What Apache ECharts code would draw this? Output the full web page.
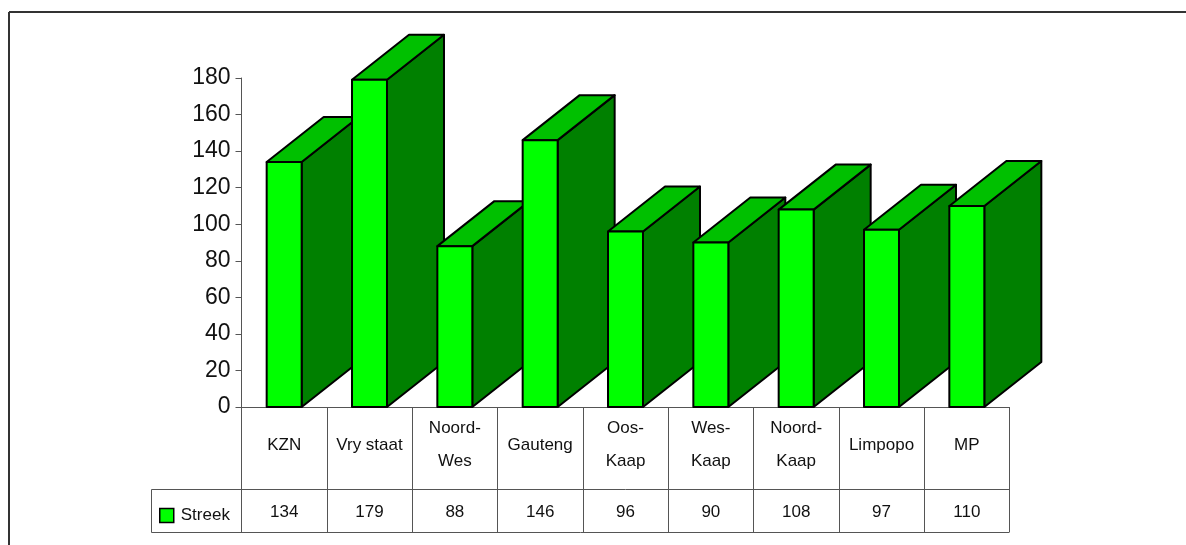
<!DOCTYPE html>
<html>
<head>
<meta charset="utf-8">
<style>
html, body { margin: 0; padding: 0; background: #fff; }
#main { width: 1186px; height: 545px; }
</style>
<script src="https://cdn.jsdelivr.net/npm/echarts@6/dist/echarts.min.js"></script>
</head>
<body>
<div id="main"></div>
<script>
var categories = ['KZN', 'Vry staat', 'Noord-\nWes', 'Gauteng', 'Oos-\nKaap', 'Wes-\nKaap', 'Noord-\nKaap', 'Limpopo', 'MP'];
var streek = [134, 179, 88, 146, 96, 90, 108, 97, 110];
var yTicks = { min: 0, max: 180, interval: 20 };

var myChart = echarts.init(document.getElementById('main'));
var lineGray = '#555555';
var depthX = 57;
var depthY = 45;

// front, side and top face of one 3d column
function renderColumn(params, api) {
    var base = api.coord([api.value(0), 0]);
    var top = api.coord([api.value(0), api.value(1)]);
    var w = api.size([1, 0])[0] * 0.41;
    var l = base[0] - w / 2;
    var r = base[0] + w / 2;
    function face(points, fill) {
        return {
            type: 'polygon',
            shape: { points: points },
            style: { fill: fill, stroke: '#000', lineWidth: 2, lineJoin: 'round' }
        };
    }
    return {
        type: 'group',
        children: [
            face([[r, base[1]], [r + depthX, base[1] - depthY], [r + depthX, top[1] - depthY], [r, top[1]]], '#008000'),
            face([[l, top[1]], [r, top[1]], [r + depthX, top[1] - depthY], [l + depthX, top[1] - depthY]], '#00c000'),
            face([[l, base[1]], [r, base[1]], [r, top[1]], [l, top[1]]], '#00ff00')
        ]
    };
}

function frameLine(x1, y1, x2, y2, color, width) {
    return {
        type: 'line',
        shape: { x1: x1, y1: y1, x2: x2, y2: y2 },
        style: { stroke: color || lineGray, lineWidth: width || 1 },
        z: 5
    };
}

var option = {
    animation: false,
    backgroundColor: '#fff',
    grid: { left: 241.5, right: 176.5, top: 78, bottom: 138, containLabel: false },
    legend: {
        data: [{ name: 'Streek', icon: 'rect' }],
        left: 159,
        top: 507,
        itemWidth: 14,
        itemHeight: 14,
        itemStyle: { color: '#00ff00', borderColor: '#000', borderWidth: 1.5 },
        textStyle: { color: '#111', fontFamily: 'Liberation Sans', fontSize: 17, padding: [0, 0, 0, 2] },
        padding: 0
    },
    xAxis: [
        {
            type: 'category',
            data: categories,
            position: 'bottom',
            axisLine: { lineStyle: { color: lineGray, width: 1 } },
            axisTick: { show: true, length: 82, lineStyle: { color: lineGray, width: 1 } },
            axisLabel: {
                interval: 0,
                margin: 38,
                color: '#111',
                fontFamily: 'Liberation Sans',
                fontSize: 17,
                lineHeight: 33,
                verticalAlign: 'middle'
            }
        },
        {
            type: 'category',
            data: streek,
            position: 'bottom',
            offset: 82,
            axisLine: { lineStyle: { color: lineGray, width: 1 } },
            axisTick: { show: true, length: 43, lineStyle: { color: lineGray, width: 1 } },
            axisLabel: {
                interval: 0,
                margin: 23,
                color: '#111',
                fontFamily: 'Liberation Sans',
                fontSize: 17,
                verticalAlign: 'middle'
            }
        }
    ],
    yAxis: {
        type: 'value',
        min: yTicks.min,
        max: yTicks.max,
        interval: yTicks.interval,
        axisLine: { show: true, lineStyle: { color: lineGray, width: 1 } },
        axisTick: { show: true, length: 6, lineStyle: { color: lineGray, width: 1 } },
        axisLabel: { margin: 11, color: '#111', fontFamily: 'Liberation Sans', fontSize: 23 },
        splitLine: { show: false }
    },
    series: [
        {
            name: 'Streek',
            type: 'custom',
            renderItem: renderColumn,
            encode: { x: 0, y: 1 },
            data: streek.map(function (v, i) { return [i, v]; }),
            itemStyle: { color: '#00ff00' },
            clip: false,
            z: 3
        }
    ],
    graphic: [
        // outer frame, table bottom and legend cell
        frameLine(9, 12, 1186, 12, '#333', 2),
        frameLine(9, 12, 9, 545, '#333', 2),
        frameLine(151.5, 532.5, 1009.5, 532.5),
        frameLine(151.5, 489.5, 241.5, 489.5),
        frameLine(151.5, 489.5, 151.5, 532.5)
    ]
};
myChart.setOption(option);
</script>
</body>
</html>
